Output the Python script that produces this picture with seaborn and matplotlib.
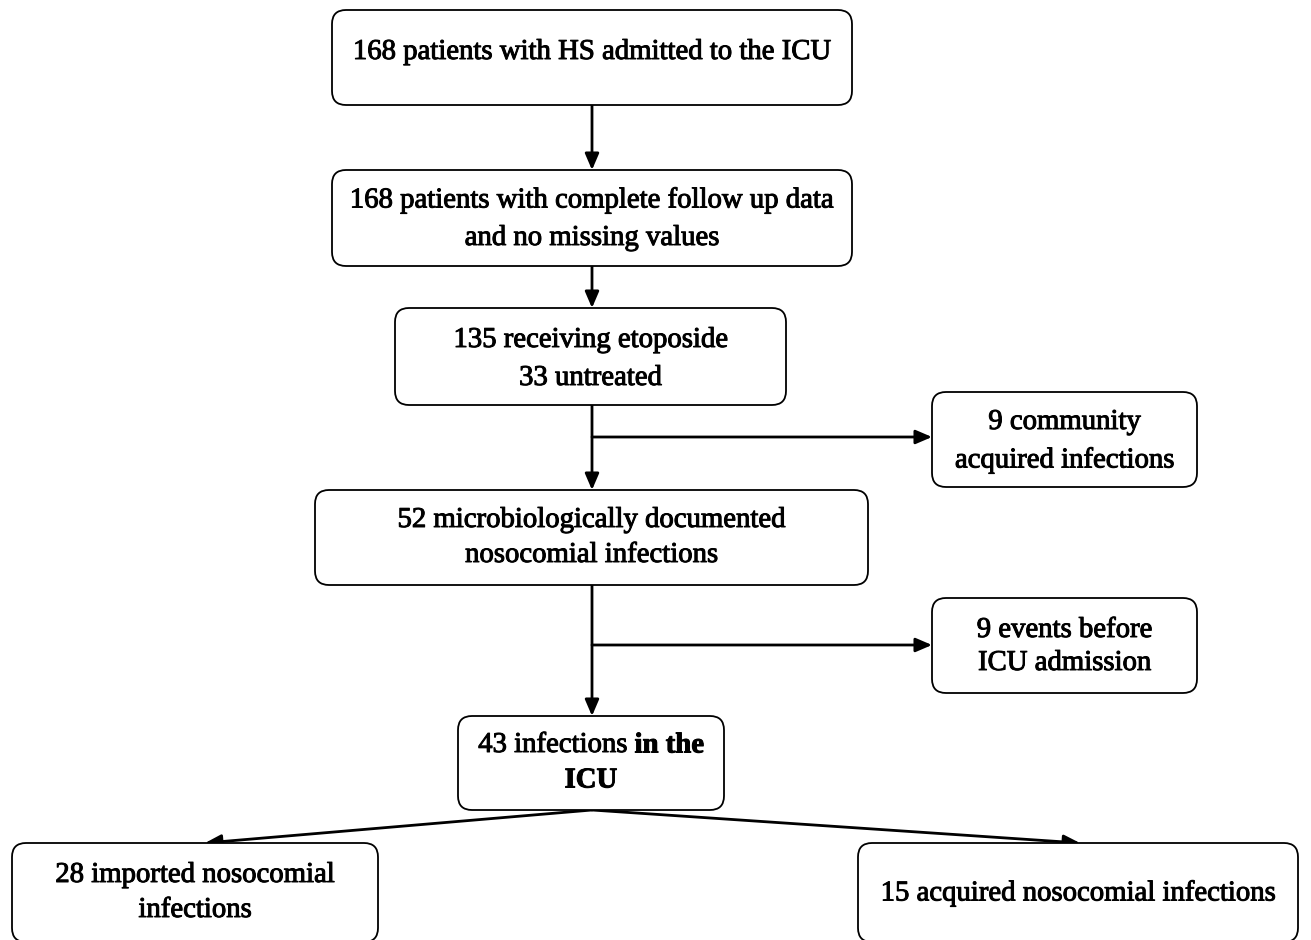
import matplotlib
matplotlib.use('Agg')
import matplotlib.pyplot as plt
import matplotlib.patheffects as pe
import seaborn as sns
from matplotlib.patches import FancyBboxPatch

# --- DATA: testi del diagramma di flusso ---
n_ammessi = 168
n_follow = 168
n_etoposide = 135
n_untreated = 33
n_community = 9
n_micro = 52
n_before_icu = 9
n_icu = 43
n_imported = 28
n_acquired = 15

etichette = [
    [f'{n_ammessi} patients with HS admitted to the ICU'],
    [f'{n_follow} patients with complete follow up data', 'and no missing values'],
    [f'{n_etoposide} receiving etoposide', f'{n_untreated} untreated'],
    [f'{n_community} community', 'acquired infections'],
    [f'{n_micro} microbiologically documented', 'nosocomial infections'],
    [f'{n_before_icu} events before', 'ICU admission'],
    None,  # box con testo misto (grassetto), gestito a parte
    [f'{n_imported} imported nosocomial', 'infections'],
    [f'{n_acquired} acquired nosocomial infections'],
]

# --- LAYOUT (pixel, y verso il basso): x0, y0, x1, y1, y delle righe di testo ---
box = [
    (332, 10, 852, 105, [52]),
    (332, 170, 852, 266, [200, 238]),
    (395, 308, 786, 405, [340, 378]),
    (932, 392, 1197, 487, [422, 460]),
    (315, 490, 868, 585, [520, 555]),
    (932, 598, 1197, 693, [630, 663]),
    (458, 716, 724, 810, [745, 780]),
    (12, 843, 378, 942, [875, 910]),
    (858, 843, 1298, 942, [893]),
]

sns.set_style('white')
plt.rcParams['font.family'] = ['Liberation Serif', 'DejaVu Serif']
plt.rcParams['text.color'] = 'black'

fig = plt.figure(figsize=(13.11, 9.40), dpi=100)
ax = fig.add_axes([0, 0, 1, 1])
ax.set_xlim(0, 1311)
ax.set_ylim(940, 0)
ax.axis('off')

fs = 20.7
spesso = [pe.withStroke(linewidth=0.7, foreground='black')]
r = 14
for i, (x0, y0, x1, y1, ys) in enumerate(box):
    p = FancyBboxPatch((x0 + r, y0 + r), (x1 - x0) - 2 * r, (y1 - y0) - 2 * r,
                       boxstyle=f'round,pad={r}', fc='white', ec='black', lw=1.3, zorder=2)
    ax.add_patch(p)
    if etichette[i] is None:
        continue
    cx = (x0 + x1) / 2
    for riga, yy in zip(etichette[i], ys):
        ax.text(cx, yy, riga, ha='center', va='center', fontsize=fs, zorder=3,
                path_effects=spesso)

# box con testo misto
x0, y0, x1, y1, ys = box[6]
cx = (x0 + x1) / 2
fig.canvas.draw()
rend = fig.canvas.get_renderer()
t1 = ax.text(0, 0, f'{n_icu} infections ', fontsize=fs)
t2 = ax.text(0, 0, 'in the', fontsize=fs, fontweight='bold')
w1 = t1.get_window_extent(rend).width
w2 = t2.get_window_extent(rend).width
t1.remove()
t2.remove()
start = cx - (w1 + w2) / 2
ax.text(start, ys[0], f'{n_icu} infections ', ha='left', va='center', fontsize=fs,
        zorder=3, path_effects=spesso)
ax.text(start + w1, ys[0], 'in the', ha='left', va='center', fontsize=fs,
        fontweight='bold', zorder=3, path_effects=spesso)
ax.text(cx, ys[1], 'ICU', ha='center', va='center', fontsize=fs, fontweight='bold',
        zorder=3, path_effects=spesso)

# --- FRECCE ---
props = dict(arrowstyle='-|>,head_length=0.7,head_width=0.3', color='black', lw=2.0,
             shrinkA=0, shrinkB=0, mutation_scale=14)


def freccia(xa, ya, xb, yb):
    ax.annotate('', xy=(xb, yb), xytext=(xa, ya), arrowprops=props, zorder=1)


cx = 592
freccia(cx, 105, cx, 170)
freccia(cx, 266, cx, 308)
freccia(cx, 405, cx, 490)
freccia(cx, 437, 932, 437)
freccia(cx, 585, cx, 716)
freccia(cx, 645, 932, 645)
freccia(cx, 810, 205, 843)
freccia(cx, 810, 1080, 843)

fig.savefig('out.png', dpi=100, facecolor='white')
